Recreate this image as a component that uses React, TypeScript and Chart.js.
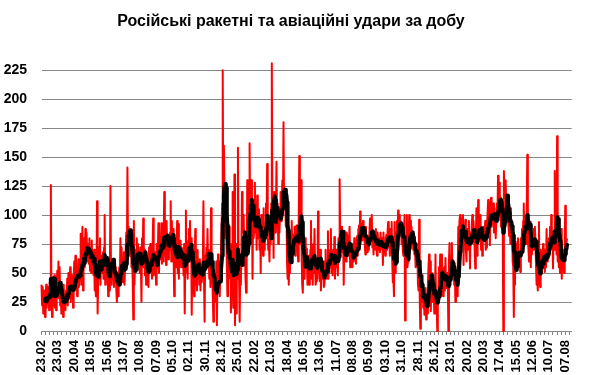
import React, { useEffect, useRef } from "react";
import { Chart, registerables } from "chart.js";

Chart.register(...registerables);

const TITLE = "Російські ракетні та авіаційні удари за добу";
const START_DATE = [2023, 1, 23]; // 23.02.2023 (year, monthIndex, day)
const AXIS_DAYS = 908;
const LABEL_EVERY = 28;
const TICK_MARK_EVERY = 7;
const MA_PERIOD = 7;

const TICK_LABELS = [
  "23.02", "23.03", "20.04", "18.05", "15.06", "13.07", "10.08", "07.09", "05.10",
  "02.11", "30.11", "28.12", "25.01", "22.02", "21.03", "18.04", "16.05", "13.06",
  "11.07", "08.08", "05.09", "03.10", "31.10", "28.11", "26.12", "23.01", "20.02",
  "20.03", "17.04", "15.05", "12.06", "10.07", "07.08",
];

const Y_MIN = 0;
const Y_MAX = 225;
const Y_STEP = 25;

// Daily strikes, one row per 28 days
const DAILY_STRIKES = [
  40,22,38,15,30,35,12, 28,40,20,35,25,38,18, 42,30,126,28,12,45,35, 22,48,20,30,18,40,52,
  35,60,28,55,22,30,15, 25,32,12,40,20,30,18, 35,28,45,22,50,38,30, 55,25,40,30,48,20,42,
  60,35,65,40,55,30,48, 62,38,55,45,84,40,50, 90,35,60,80,55,88,62, 85,70,60,75,58,80,52,
  70,50,78,55,65,48,70, 35,50,30,40,112,15,45, 72,55,80,40,65,60,50, 68,45,72,100,40,62,55,
  45,60,30,55,35,50,125, 40,62,45,58,50,38,60, 42,55,35,25,50,30,45, 55,40,80,48,72,55,42,
  45,68,40,55,70,85,60, 141,75,90,65,88,70,80, 55,60,45,10,95,40,58, 70,55,80,62,75,58,68,
  50,72,58,25,80,60,97, 55,70,48,65,40,58,45, 60,38,72,50,75,58,62, 45,70,97,48,60,52,68,
  40,75,55,68,93,50,80, 62,70,93,58,85,60,78, 120,65,88,57,95,72,80, 62,78,70,85,112,60,95,
  70,88,65,30,75,60,80, 55,95,50,92,45,70,60, 78,55,72,60,68,48,75, 15,62,104,50,70,45,78,
  88,65,95,70,80,14,60, 45,50,30,55,88,40,60, 35,70,52,58,40,62,35, 55,42,48,60,112,45,8,
  65,55,72,62,88,55,70, 45,62,38,106,42,55,30, 8,50,35,48,25,60,5, 45,66,38,55,30,60,72,
  90,110,225,95,160,120,80, 100,85,60,30,70,45,90, 60,75,16,40,30,120,20, 35,135,5,60,15,75,45,
  158,60,45,8,55,40,70, 120,85,100,95,57,70,45, 33,60,130,75,100,85,162, 95,110,130,110,45,105,80,
  90,128,85,100,70,117,95, 80,105,70,90,50,100,75, 95,65,106,70,90,80,110, 95,144,80,70,74,60,91,
  75,110,231,90,105,63,120, 95,85,100,146,90,110,75, 97,85,100,120,95,110,130, 100,180,105,120,108,90,115,
  60,45,70,40,65,50,85, 60,95,70,80,83,75,90, 65,85,91,70,80,60,95, 151,75,100,130,66,40,33,
  60,75,45,80,55,71,60, 40,48,65,40,55,70,95, 45,60,40,75,50,88,55, 40,43,60,45,103,50,65,
  43,70,35,55,45,50,60, 38,40,55,70,45,60,50, 86,45,65,55,70,88,50, 62,48,70,55,81,45,60,
  70,55,65,48,80,70,131, 85,75,90,70,68,80,40, 75,65,70,60,85,82,70, 65,77,90,55,70,60,68,
  55,75,60,80,62,70,58, 75,82,65,88,91,70,103, 85,92,91,78,95,80,88, 75,66,90,72,82,68,75,
  70,85,97,78,90,100,72, 80,66,85,70,79,88,74, 65,85,77,70,80,68,85, 72,71,80,57,85,70,78,
  65,80,83,70,85,94,72, 80,65,88,75,94,60,42, 45,30,94,50,85,70,95, 80,104,90,100,85,95,94,
  75,85,70,65,80,100,9, 70,65,100,55,60,75,100, 85,95,71,90,75,80,70, 75,66,70,55,65,60,70,
  40,35,96,30,2,45,25, 35,48,20,30,14,25,37, 10,20,15,40,55,66,45, 60,17,50,45,25,40,31,
  15,20,66,15,25,0,30, 37,55,45,66,30,50,66, 40,30,45,55,35,63,40, 37,50,45,0,60,76,40,
  55,65,76,50,45,60,40, 55,25,35,43,30,50,90, 70,95,100,65,90,97,85, 100,57,90,75,96,70,60,
  88,70,78,95,80,54,85, 75,90,100,80,95,85,70, 54,80,106,65,75,113,90, 80,83,100,70,85,65,74,
  90,85,80,95,70,72,90, 100,113,85,110,74,100,115, 90,105,95,110,85,106,95, 80,94,110,100,134,105,128,
  100,115,90,105,95,88,0, 138,115,120,130,105,100,111, 95,90,82,106,75,106,80, 94,60,55,12,70,40,77,
  55,75,60,80,70,55,65, 51,80,70,88,75,95,110, 80,95,88,75,100,152,80, 71,60,85,94,55,80,66,
  85,70,88,75,90,77,55, 40,45,35,50,94,45,38, 70,50,68,60,75,55,70, 51,65,55,88,60,70,77,
  80,65,90,70,100,75,85, 54,80,70,138,75,90,66, 168,60,80,55,66,50,60, 88,45,70,55,60,50,77,
  108,70,76,80,
];

function pad2(n: number) {
  return n < 10 ? "0" + n : String(n);
}

function buildCategories(): string[] {
  const out: string[] = [];
  const base = Date.UTC(START_DATE[0], START_DATE[1], START_DATE[2]);
  for (let i = 0; i < AXIS_DAYS; i++) {
    const d = new Date(base + i * 86400000);
    out.push(pad2(d.getUTCDate()) + "." + pad2(d.getUTCMonth() + 1) + "." + d.getUTCFullYear());
  }
  return out;
}

export default function App() {
  const ref = useRef<HTMLCanvasElement>(null);

  useEffect(() => {
    if (!ref.current) return;
    const labels = buildCategories();
    const daily = labels.map((_, i) => (i < DAILY_STRIKES.length ? DAILY_STRIKES[i] : null));
    const avg = labels.map((_, i) => {
      if (i < MA_PERIOD - 1 || i >= DAILY_STRIKES.length) return null;
      let s = 0;
      for (let k = 0; k < MA_PERIOD; k++) s += DAILY_STRIKES[i - k];
      return s / MA_PERIOD;
    });

    const tickFont = { family: "'Liberation Sans', Arial, sans-serif", weight: "bold" as const };

    const chart = new Chart(ref.current, {
      type: "line",
      data: {
        labels,
        datasets: [
          {
            label: "Удари за добу",
            data: daily,
            borderColor: "#FF0000",
            borderWidth: 2,
            pointRadius: 0,
            tension: 0,
            clip: false as any,
            borderJoinStyle: "round",
            order: 2,
          },
          {
            label: "Ковзне середнє (7 днів)",
            data: avg,
            borderColor: "#000000",
            borderWidth: 4,
            pointRadius: 0,
            tension: 0,
            borderJoinStyle: "round",
            borderCapStyle: "round",
            order: 1,
          },
        ],
      },
      options: {
        animation: false,
        responsive: false,
        events: [],
        layout: { padding: { left: 0, right: 8, top: 0, bottom: 0 } },
        plugins: {
          legend: { display: false },
          tooltip: { enabled: false },
          title: {
            display: true,
            text: TITLE,
            color: "#000000",
            font: { family: "'Liberation Sans', Arial, sans-serif", size: 16, weight: "bold" },
            padding: { top: 12, bottom: 39 },
          },
        },
        scales: {
          x: {
            type: "category",
            offset: false,
            afterBuildTicks: (scale: any) => {
              scale.ticks = scale.ticks.filter((t: any) => t.value % TICK_MARK_EVERY === 0);
            },
            afterFit: (scale: any) => {
              scale.height = 44;
            },
            grid: {
              drawOnChartArea: false,
              drawTicks: true,
              tickLength: 4,
              color: "#878787",
              lineWidth: 1,
            },
            border: { display: true, color: "#878787", width: 1 },
            ticks: {
              autoSkip: false,
              minRotation: 90,
              maxRotation: 90,
              padding: 5,
              color: "#000000",
              font: { ...tickFont, size: 13 },
              callback: (value: any) => {
                const v = Number(value);
                return v % LABEL_EVERY === 0 ? TICK_LABELS[v / LABEL_EVERY] ?? "" : "";
              },
            },
          },
          y: {
            min: Y_MIN,
            max: Y_MAX,
            afterFit: (scale: any) => {
              scale.width = 41.5;
            },
            grid: { color: "#878787", lineWidth: 1, drawTicks: false },
            border: { display: false },
            ticks: {
              stepSize: Y_STEP,
              padding: 14.5,
              color: "#000000",
              font: { ...tickFont, size: 14 },
            },
          },
        },
      },
    });

    return () => chart.destroy();
  }, []);

  return (
    <div style={{ position: "fixed", left: 0, top: 0, width: 590, height: 375, background: "#ffffff" }}>
      <canvas ref={ref} width={590} height={375} style={{ display: "block" }} />
    </div>
  );
}
